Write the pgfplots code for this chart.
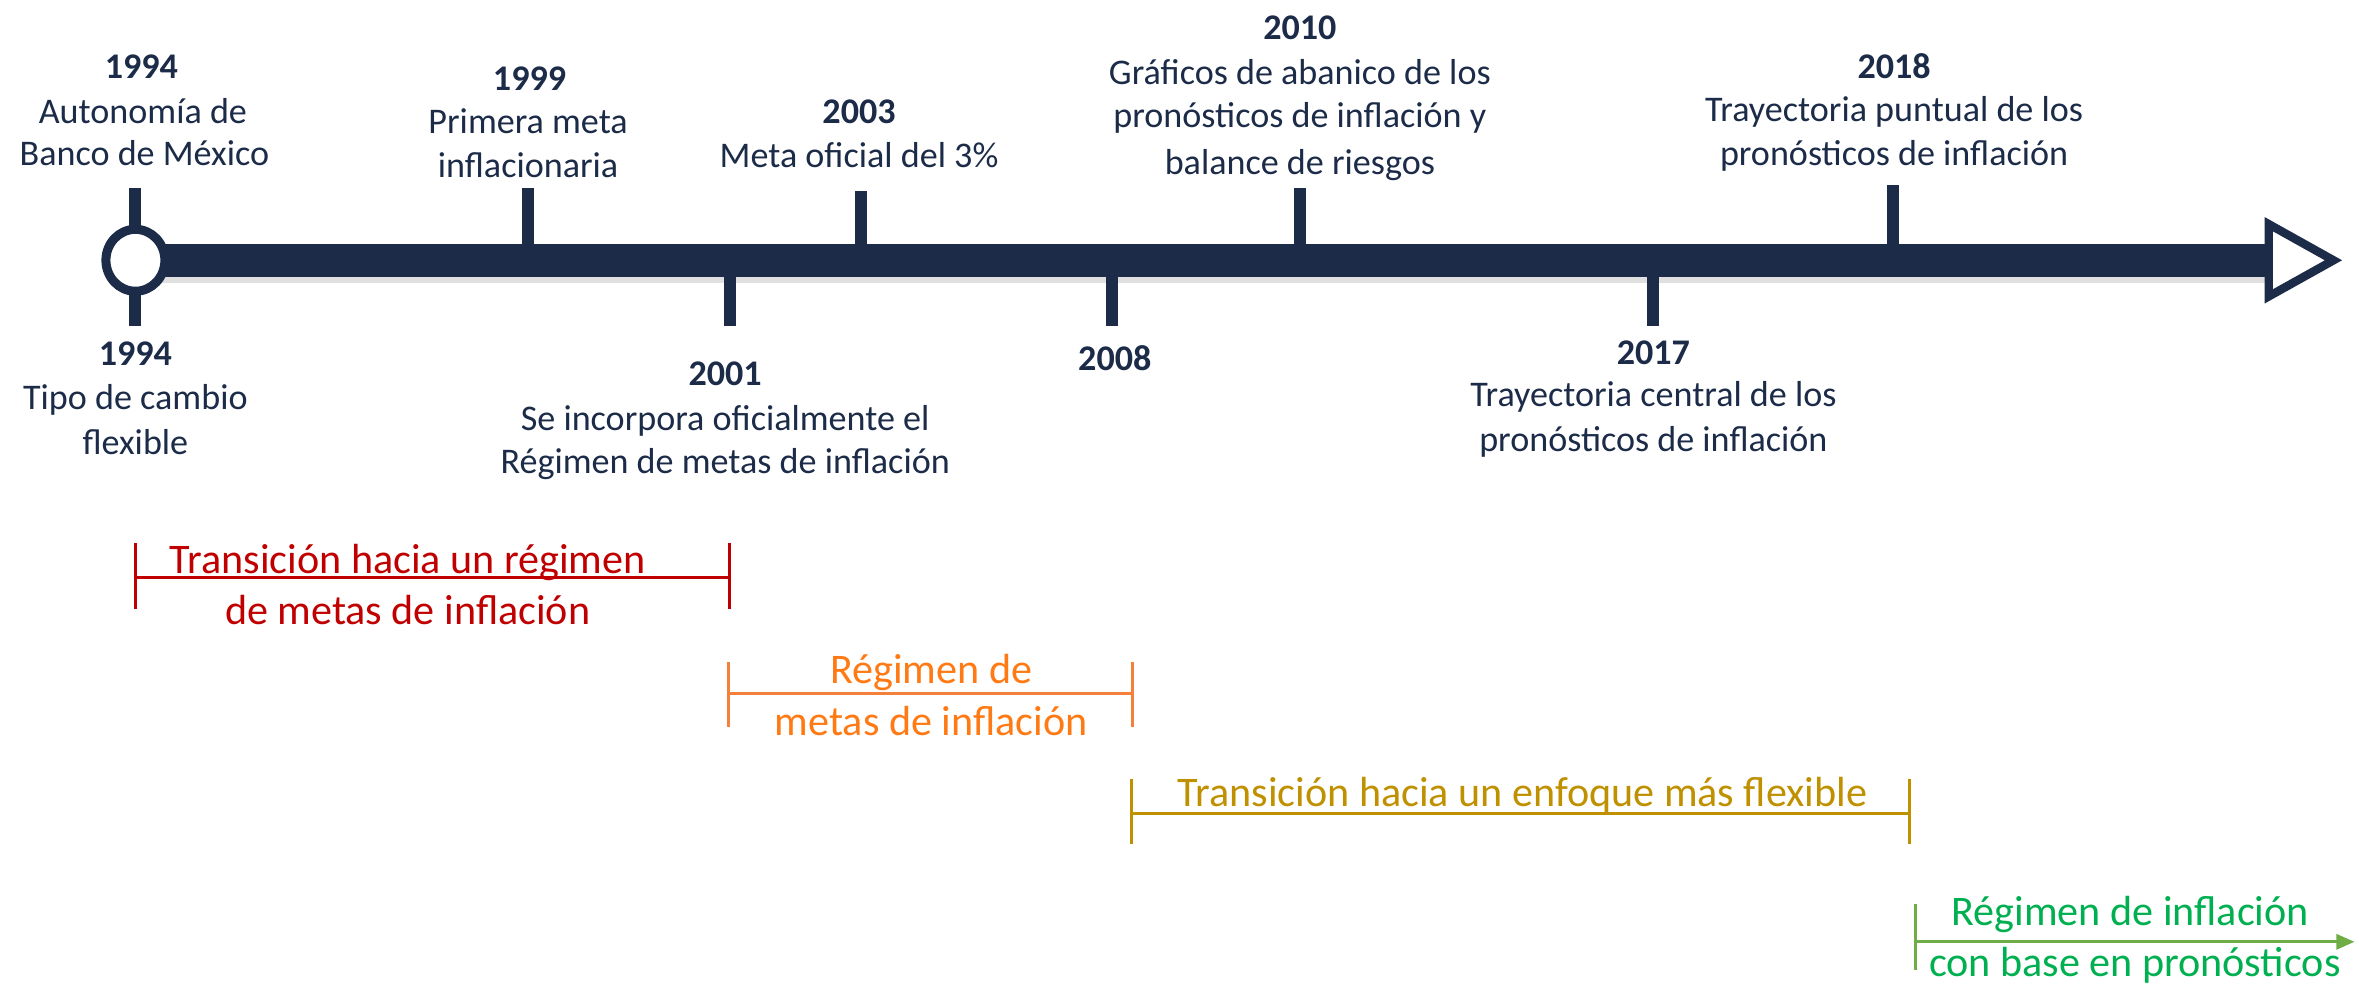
\documentclass[border=0pt]{standalone}
\usepackage{pgfplots}
\pgfplotsset{compat=1.18}
\usepackage{fontspec}
\setmainfont{Carlito}
\usetikzlibrary{arrows.meta}
\definecolor{navy}{RGB}{27,43,72}
\definecolor{cred}{RGB}{192,0,0}
\definecolor{corT}{RGB}{255,122,20}
\definecolor{corL}{RGB}{245,128,60}
\definecolor{cgold}{RGB}{191,144,0}
\definecolor{cgrT}{RGB}{0,176,80}
\definecolor{cgrL}{RGB}{112,173,71}
\newcommand{\lab}[3]{\node[anchor=base,text=navy,font=\fontsize{12}{14.4}\selectfont,inner sep=0pt] at (axis cs:#1,#2) {#3};}
\newcommand{\yr}[3]{\node[anchor=base,text=navy,font=\fontsize{12}{14.4}\selectfont\bfseries,inner sep=0pt] at (axis cs:#1,#2) {#3};}
\newcommand{\per}[4]{\node[anchor=base,text=#4,font=\fontsize{14}{17}\selectfont,inner sep=0pt] at (axis cs:#1,#2) {#3};}
\begin{document}
\begin{tikzpicture}
\begin{axis}[
  scale only axis, width=784pt, height=327.5pt,
  xmin=0, xmax=1568, ymin=0, ymax=655, y dir=reverse,
  axis line style={draw=none}, ticks=none, clip=false,
]
% shadow of main bar
\addplot[black!12, line width=11pt] coordinates {(95,177) (1510,177)};
% main bar
\addplot[navy, line width=11pt] coordinates {(90,173) (1510,173)};
% ticks above
\addplot[navy, line width=4pt] coordinates {(90,125) (90,173)};
\addplot[navy, line width=4pt] coordinates {(351,125) (351,173)};
\addplot[navy, line width=4pt] coordinates {(572,127) (572,173)};
\addplot[navy, line width=4pt] coordinates {(864,125) (864,173)};
\addplot[navy, line width=4pt] coordinates {(1258,123) (1258,173)};
% ticks below
\addplot[navy, line width=4pt] coordinates {(90,173) (90,217)};
\addplot[navy, line width=4pt] coordinates {(485,173) (485,217)};
\addplot[navy, line width=4pt] coordinates {(739,173) (739,217)};
\addplot[navy, line width=4pt] coordinates {(1099,173) (1099,217)};
% arrow head
\addplot[navy, fill=white, line width=2.8pt, line join=miter] coordinates {(1508,149) (1551,173) (1508,197)} -- cycle;
% start circle
\addplot[only marks, mark=*, mark size=9.8pt, mark options={fill=white, draw=navy, line width=3pt, yscale=1.05}] coordinates {(90,173)};

% labels above
\yr{94}{52}{1994}
\lab{95}{82}{Autonomía de}
\lab{96}{110}{Banco de México}
\yr{352}{60}{1999}
\lab{351}{89}{Primera meta}
\lab{351}{118}{inflacionaria}
\yr{571}{82}{2003}
\lab{571}{111}{Meta oficial del 3\%}
\yr{864}{26}{2010}
\lab{864}{56}{Gráficos de abanico de los}
\lab{864}{85}{pronósticos de inflación y}
\lab{864}{116}{balance de riesgos}
\yr{1259}{52}{2018}
\lab{1259}{81}{Trayectoria puntual de los}
\lab{1259}{110}{pronósticos de inflación}
% labels below
\yr{90}{243}{1994}
\lab{90}{272}{Tipo de cambio}
\lab{90}{302}{flexible}
\yr{482}{256}{2001}
\lab{482}{286}{Se incorpora oficialmente el}
\lab{482}{315}{Régimen de metas de inflación}
\yr{741}{246}{2008}
\yr{1099}{242}{2017}
\lab{1099}{270}{Trayectoria central de los}
\lab{1099}{300}{pronósticos de inflación}

% periods
\addplot[cred, line width=1pt] coordinates {(90,384) (485,384)};
\addplot[cred, line width=1pt] coordinates {(90,361) (90,405)};
\addplot[cred, line width=1pt] coordinates {(485,361) (485,405)};
\per{271}{381}{Transición hacia un régimen}{cred}
\per{271}{415}{de metas de inflación}{cred}

\addplot[corL, line width=1pt] coordinates {(484,461) (753,461)};
\addplot[corL, line width=1pt] coordinates {(484,440) (484,483)};
\addplot[corL, line width=1pt] coordinates {(753,440) (753,483)};
\per{619}{454}{Régimen de}{corT}
\per{619}{489}{metas de inflación}{corT}

\addplot[cgold, line width=1pt] coordinates {(752,541) (1269,541)};
\addplot[cgold, line width=1pt] coordinates {(752,518) (752,561)};
\addplot[cgold, line width=1pt] coordinates {(1269,518) (1269,561)};
\per{1012}{536}{Transición hacia un enfoque más flexible}{cgold}

\addplot[cgrL, line width=1pt, -{Triangle[length=6pt,width=5pt]}] coordinates {(1273,626) (1565,626)};
\addplot[cgrL, line width=1pt] coordinates {(1273,601) (1273,645)};
\per{1416}{615}{Régimen de inflación}{cgrT}
\per{1419}{649}{con base en pronósticos}{cgrT}
\end{axis}
\end{tikzpicture}
\end{document}
